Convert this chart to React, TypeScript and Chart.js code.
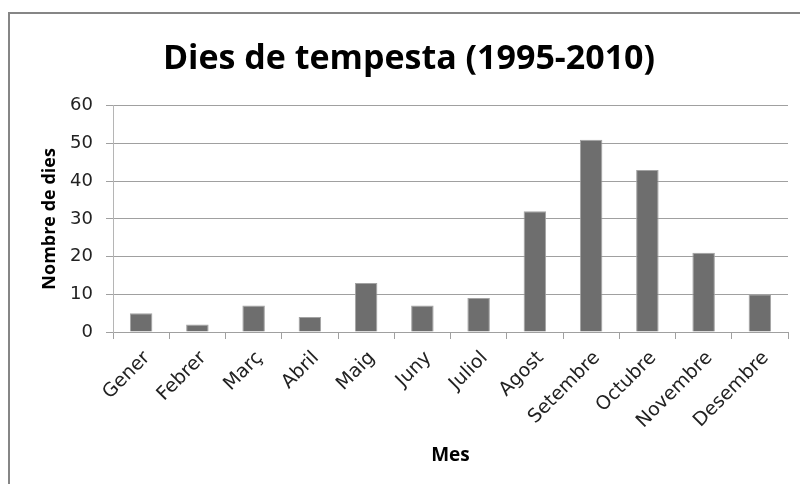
import React, { useEffect, useRef } from "react";
import { Chart, registerables } from "chart.js";

Chart.register(...registerables);

const months = ["Gener", "Febrer", "Març", "Abril", "Maig", "Juny", "Juliol", "Agost", "Setembre", "Octubre", "Novembre", "Desembre"];
const stormDays = [5, 2, 7, 4, 13, 7, 9, 32, 51, 43, 21, 10];
const chartTitle = "Dies de tempesta (1995-2010)";
const xTitle = "Mes";
const yTitle = "Nombre de dies";

const frame = {
  id: "frame",
  beforeDraw(chart: any) {
    const ctx = chart.ctx;
    ctx.save();
    ctx.strokeStyle = "#868686";
    ctx.lineWidth = 2;
    ctx.beginPath();
    ctx.moveTo(9, 484);
    ctx.lineTo(9, 13);
    ctx.lineTo(800, 13);
    ctx.stroke();
    ctx.restore();
  },
};

export default function App() {
  const ref = useRef<HTMLCanvasElement>(null);
  useEffect(() => {
    const chart = new Chart(ref.current!, {
      type: "bar",
      data: {
        labels: months,
        datasets: [
          {
            data: stormDays,
            backgroundColor: "#6e6e6e",
            borderColor: "#a3a3a3",
            borderWidth: 1,
            categoryPercentage: 1,
            barPercentage: 0.4,
          },
        ],
      },
      options: {
        animation: false,
        responsive: false,
        layout: { padding: { left: 30, right: 12, top: 0, bottom: 0 } },
        plugins: {
          legend: { display: false },
          tooltip: { enabled: false },
          title: {
            display: true,
            text: chartTitle,
            color: "#000",
            font: { family: "Open Sans", size: 34, weight: "bold" },
            padding: { top: 39, bottom: 26 },
          },
        },
        scales: {
          x: {
            afterFit(s: any) {
              s.height = 152;
            },
            grid: {
              offset: true,
              drawOnChartArea: false,
              drawTicks: true,
              tickLength: 7,
              color: "#a0a0a0",
            },
            border: { color: "#a0a0a0", width: 1 },
            ticks: {
              minRotation: 45,
              maxRotation: 45,
              autoSkip: false,
              padding: 8,
              labelOffset: 6,
              color: "#222",
              font: { family: "DejaVu Sans", size: 19 },
            },
            title: {
              display: true,
              text: xTitle,
              color: "#000",
              font: { family: "Open Sans", size: 19, weight: "bold" },
              padding: { top: 0, bottom: 17 },
            },
          },
          y: {
            min: 0,
            max: 60,
            afterFit(s: any) {
              s.width = 83;
            },
            ticks: {
              stepSize: 10,
              padding: 13,
              color: "#222",
              font: { family: "DejaVu Sans", size: 18 },
            },
            grid: {
              color: "#a0a0a0",
              tickLength: 7,
              drawTicks: true,
            },
            border: { color: "#b5b5b5", width: 1 },
            title: {
              display: true,
              text: yTitle,
              color: "#000",
              font: { family: "Open Sans", size: 18, weight: "bold" },
              padding: { top: 9, bottom: 0 },
            },
          },
        },
      },
      plugins: [frame],
    });
    return () => chart.destroy();
  }, []);
  return (
    <div style={{ position: "absolute", left: 0, top: 0, width: 800, height: 484, overflow: "hidden", background: "#fff" }}>
      <canvas ref={ref} width={800} height={484} style={{ display: "block" }} />
    </div>
  );
}
